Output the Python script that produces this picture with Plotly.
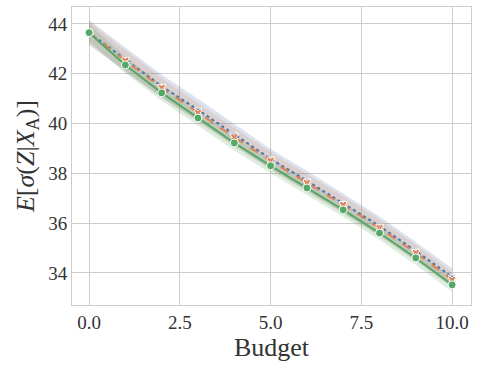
import plotly.graph_objects as go

budget = [0, 1, 2, 3, 4, 5, 6, 7, 8, 9, 10]
blue_mean = [43.65, 42.58, 41.50, 40.55, 39.55, 38.58, 37.70, 36.80, 35.88, 34.88, 33.84]
orange_mean = [43.65, 42.52, 41.43, 40.43, 39.45, 38.50, 37.61, 36.73, 35.80, 34.80, 33.72]
green_mean = [43.65, 42.35, 41.23, 40.22, 39.22, 38.30, 37.41, 36.53, 35.60, 34.60, 33.52]
blue_ci = [0.50, 0.48, 0.46, 0.44, 0.42, 0.40, 0.40, 0.38, 0.38, 0.36, 0.35]
orange_ci = [0.45, 0.42, 0.40, 0.38, 0.38, 0.36, 0.36, 0.35, 0.34, 0.33, 0.32]
green_ci = [0.35, 0.33, 0.32, 0.30, 0.30, 0.30, 0.30, 0.28, 0.28, 0.28, 0.28]

series = [
    ("blue", blue_mean, blue_ci, "#4c72b0", "rgba(76,114,176,0.2)", "dot", "triangle-down"),
    ("orange", orange_mean, orange_ci, "#dd8452", "rgba(221,132,82,0.2)", "dash", "x"),
    ("green", green_mean, green_ci, "#55a868", "rgba(85,168,104,0.2)", "solid", "circle"),
]

fig = go.Figure()
for name, mean, ci, color, fill, dash, symbol in series:
    upper = [m + c for m, c in zip(mean, ci)]
    lower = [m - c for m, c in zip(mean, ci)]
    fig.add_trace(go.Scatter(
        x=budget + budget[::-1], y=upper + lower[::-1],
        fill="toself", fillcolor=fill, line=dict(width=0),
        hoverinfo="skip", showlegend=False,
    ))
for name, mean, ci, color, fill, dash, symbol in series:
    fig.add_trace(go.Scatter(
        x=budget, y=mean, mode="lines+markers", name=name,
        line=dict(color=color, width=2, dash=dash),
        marker=dict(symbol=symbol, size=7 if symbol != "circle" else 8,
                    color=color, line=dict(color="white", width=1)),
        showlegend=False,
    ))

axis_style = dict(
    showgrid=True, gridcolor="#cccccc", gridwidth=1,
    showline=True, linecolor="#cccccc", linewidth=1, mirror=True,
    zeroline=False, ticks="", tickfont=dict(size=19, color="#333333"),
    automargin=False,
)
fig.update_layout(
    width=479, height=373,
    margin=dict(l=72, r=8, t=7, b=68),
    paper_bgcolor="white", plot_bgcolor="white",
    font=dict(family="Liberation Serif", color="#333333"),
    xaxis=dict(
        range=[-0.47, 10.52], tickvals=[0, 2.5, 5, 7.5, 10], tickformat=".1f",
        title=dict(text="Budget", font=dict(size=26), standoff=2),
        **axis_style,
    ),
    yaxis=dict(
        range=[32.71, 44.68], tickvals=[34, 36, 38, 40, 42, 44],
        title=dict(text="<i>E</i>[<i>σ</i>(<i>Z</i>|<i>X</i><sub>A</sub>)]", font=dict(size=26), standoff=6),
        **axis_style,
    ),
)
fig.write_html("out.html", config={"displayModeBar": False},
               post_script="document.body.style.margin='0';")
